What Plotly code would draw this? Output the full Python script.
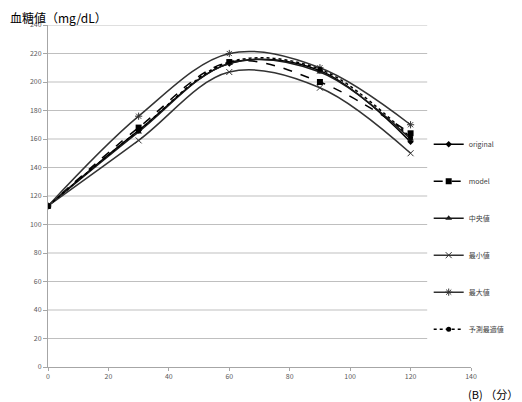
import plotly.graph_objects as go

minutes = [0, 30, 60, 90, 120]
original = [113, 166, 213, 208, 158]
model = [113, 168, 214, 200, 164]
median = [113, 165, 213, 207, 160]
minimum = [113, 159, 207, 196, 150]
maximum = [113, 176, 220, 210, 170]
predicted = [113, 166, 214, 209, 161]

y_ticks = list(range(0, 241, 20))
x_ticks = list(range(0, 141, 20))

FONT = "Noto Sans CJK JP, Noto Sans, sans-serif"

series = [
    ("original", original, dict(symbol="diamond", size=5), "solid", "#000000"),
    ("model", model, dict(symbol="square", size=6), "dash", "#000000"),
    ("中央値", median, dict(symbol="triangle-up", size=6), "solid", "#1a1a1a"),
    ("最小値", minimum, dict(symbol="x-thin-open", size=6, line=dict(width=1, color="#666666")), "solid", "#333333"),
    ("最大値", maximum, dict(symbol="asterisk-open", size=6, line=dict(width=1, color="#666666")), "solid", "#333333"),
    ("予測最適値", predicted, dict(symbol="circle", size=5), "dot", "#000000"),
]

fig = go.Figure()
for i, (name, vals, mk, dash, col) in enumerate(series):
    m = dict(mk)
    m.setdefault("color", col)
    fig.add_trace(go.Scatter(
        x=minutes, y=vals, name=name, mode="lines+markers",
        line=dict(color=col, width=1.5, dash=dash, shape="spline", smoothing=1),
        marker=m, legendgroup=f"g{i}",
    ))

# gridlines end short of axis end (as in reference)
for v in y_ticks[1:]:
    fig.add_shape(type="line", xref="x", yref="y", x0=0, x1=125.5, y0=v, y1=v,
                  line=dict(color="#bfbfbf", width=1), layer="below")

fig.update_layout(
    width=522, height=402,
    margin=dict(l=48, r=51, t=25, b=35),
    paper_bgcolor="white", plot_bgcolor="white",
    font=dict(family=FONT, size=7, color="#595959"),
    showlegend=True,
    legend=dict(x=0.9, xanchor="left", y=0.694, yanchor="top",
                font=dict(size=7, color="#404040"), tracegroupgap=18,
                itemwidth=30, bgcolor="rgba(0,0,0,0)"),
    xaxis=dict(range=[0, 140], tickvals=x_ticks, showgrid=False, zeroline=False,
               showline=True, linecolor="#a6a6a6", linewidth=1,
               ticks="outside", ticklen=3, tickcolor="#a6a6a6"),
    yaxis=dict(range=[0, 240], tickvals=y_ticks, showgrid=False, zeroline=False,
               showline=True, linecolor="#a6a6a6", linewidth=1,
               ticks="outside", ticklen=4, tickcolor="#a6a6a6"),
    annotations=[
        dict(text="血糖値（mg/dL）", xref="paper", yref="paper", x=-0.0946, y=1.0526,
             xanchor="left", yanchor="top", showarrow=False,
             font=dict(size=12, color="#000000", family=FONT)),
        dict(text="(B) （分）", xref="paper", yref="paper", x=1.1158, y=-0.0497,
             xanchor="right", yanchor="top", showarrow=False,
             font=dict(size=11, color="#000000", family=FONT)),
    ],
)

fig.write_html("out.html", config={"displayModeBar": False},
               post_script="document.body.style.margin='0';")
